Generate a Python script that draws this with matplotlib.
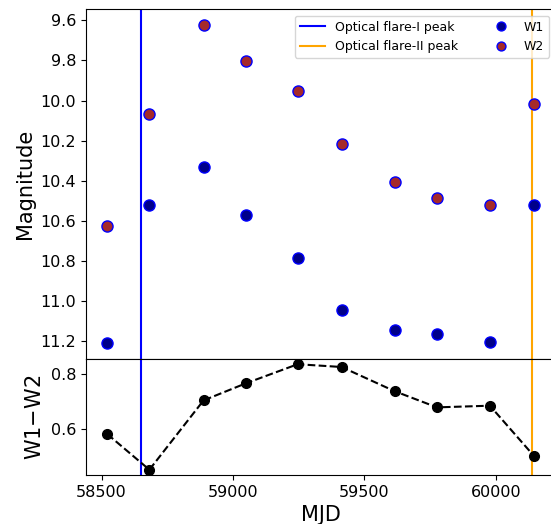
import numpy as np
import matplotlib
matplotlib.use("Agg")
import matplotlib.pyplot as plt
import matplotlib.ticker as mticker

# WISE epochs (MJD) and magnitudes
mjd = [58522, 58682, 58888, 59048, 59246, 59413, 59615, 59776, 59977, 60145]
w1 = [11.208, 10.521, 10.329, 10.568, 10.786, 11.042, 11.143, 11.163, 11.203, 10.521]
w2 = [10.625, 10.066, 9.625, 9.803, 9.952, 10.218, 10.406, 10.484, 10.518, 10.017]

flare1_peak = 58650
flare2_peak = 60136

color = np.array(w1) - np.array(w2)

fig = plt.figure(figsize=(5.51, 5.24), dpi=100)
ax1 = fig.add_axes([0.156, 0.315, 0.852, 0.667])
ax2 = fig.add_axes([0.156, 0.0935, 0.852, 0.2215], sharex=ax1)

ax1.axvline(flare1_peak, color='blue', lw=1.5, label='Optical flare-I peak')
ax1.axvline(flare2_peak, color='orange', lw=1.5, label='Optical flare-II peak')
ax1.plot(mjd, w1, 'o', ms=8, mfc='darkblue', mec='blue', mew=1, label='W1')
ax1.plot(mjd, w2, 'o', ms=8, mfc='brown', mec='blue', mew=1, label='W2')
ax1.invert_yaxis()
ax1.set_ylabel('Magnitude', fontsize=15)
ax1.tick_params(labelsize=11.5, labelbottom=False)
ax1.legend(ncol=2, loc='upper right', fontsize=9, markerscale=0.8, columnspacing=2.5)

ax2.axvline(flare1_peak, color='blue', lw=1.5)
ax2.axvline(flare2_peak, color='orange', lw=1.5)
ax2.plot(mjd, color, 'o--', color='black', ms=7)
ax2.set_ylabel('W1$-$W2', fontsize=15)
ax2.set_xlabel('MJD', fontsize=15)
ax2.tick_params(labelsize=11.5)
ax2.xaxis.set_major_locator(mticker.MultipleLocator(500))

plt.savefig('out.png', dpi=100)
